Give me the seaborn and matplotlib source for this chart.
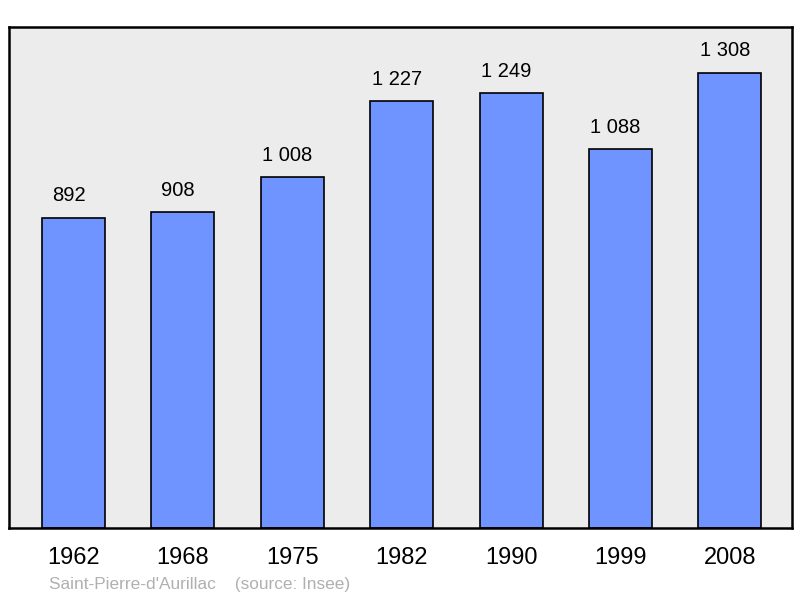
import matplotlib
matplotlib.use("Agg")
import matplotlib.pyplot as plt
import seaborn as sns
import pandas as pd

years = ["1962", "1968", "1975", "1982", "1990", "1999", "2008"]
population = [892, 908, 1008, 1227, 1249, 1088, 1308]
value_labels = ["892", "908", "1 008", "1 227", "1 249", "1 088", "1 308"]

df = pd.DataFrame({"year": years, "population": population})

sns.set_style("white")
plt.rcParams["font.family"] = ["Liberation Sans", "DejaVu Sans"]

fig = plt.figure(figsize=(8, 5.98), dpi=100)
ax = fig.add_axes([9 / 800, 1 - 528 / 598, 783 / 800, 501 / 598])
ax.set_facecolor("#ececec")

sns.barplot(data=df, x="year", y="population", color="#7094ff", saturation=1,
            width=0.575, edgecolor="black", linewidth=1.2, ax=ax)

# value labels above the bars, slightly left of centre like the original
for i, (v, lab) in enumerate(zip(population, value_labels)):
    ax.annotate(lab, (i, v), xytext=(-3.5, 9), textcoords="offset points",
                ha="center", va="bottom", fontsize=14.5, color="black")

ax.set_xlim(-0.59, 6.568)
ax.set_ylim(0, 1440)
ax.set_yticks([])
ax.set_xlabel("")
ax.set_ylabel("")
ax.tick_params(axis="x", length=0, labelsize=17, pad=14, labelcolor="black")
for s in ax.spines.values():
    s.set_visible(True)
    s.set_linewidth(1.8)
    s.set_color("black")

fig.text(49 / 800, 1 - 584 / 598, "Saint-Pierre-d'Aurillac    (source: Insee)",
         fontsize=12.4, color="#b0b0b0", ha="left", va="center")

fig.savefig("out.png", dpi=100)
